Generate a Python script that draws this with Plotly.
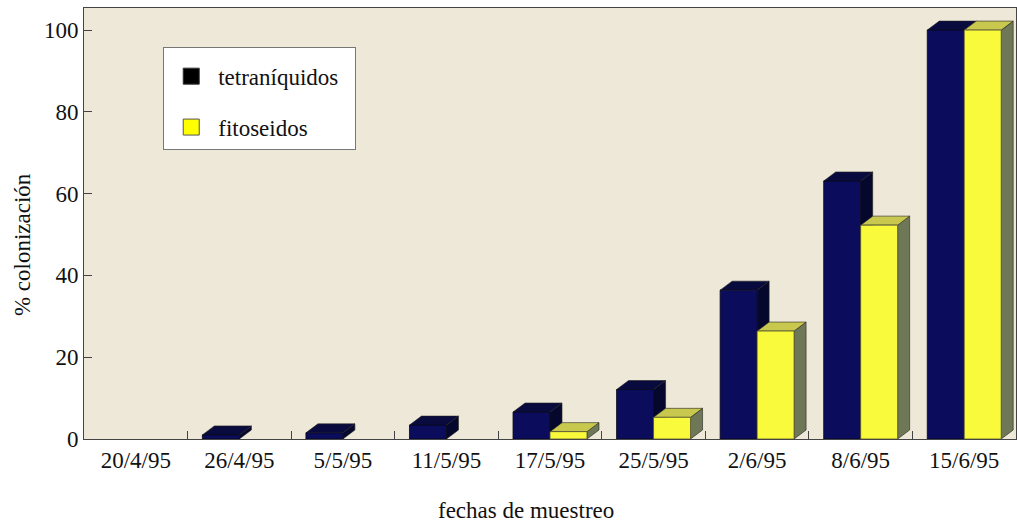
import plotly.graph_objects as go

fechas = ["20/4/95", "26/4/95", "5/5/95", "11/5/95", "17/5/95", "25/5/95", "2/6/95", "8/6/95", "15/6/95"]
tetraniquidos = [0, 1.0, 1.5, 3.4, 6.6, 12.1, 36.4, 63.1, 100]
fitoseidos = [0, 0, 0, 0, 1.8, 5.3, 26.4, 52.3, 100]

W = 0.357   # bar width (category units)
DX = 0.116  # 3D depth, x
DY = 2.2    # 3D depth, y (data units)

FONT = "Liberation Serif, Times New Roman, serif"
DARK_FRONT, DARK_TOP, DARK_SIDE = "#0b0d5c", "#090a3e", "#06072c"
YEL_FRONT, YEL_TOP, YEL_SIDE = "#fafa3c", "#c8c84e", "#6f7856"

xs = list(range(len(fechas)))
fig = go.Figure()

fig.add_trace(go.Bar(x=xs, y=tetraniquidos, width=W, offset=-W,
                     marker=dict(color=DARK_FRONT,
                                 line=dict(color="#050515", width=[0.8 if v > 0 else 0 for v in tetraniquidos])),
                     showlegend=False, name="tetraníquidos"))
fig.add_trace(go.Bar(x=xs, y=fitoseidos, width=W, offset=0,
                     marker=dict(color=YEL_FRONT,
                                 line=dict(color="#555533", width=[0.8 if v > 0 else 0 for v in fitoseidos])),
                     showlegend=False, name="fitoseidos"))

shapes = []
def faces(x0, v, fill_top, fill_side):
    if v <= 0:
        return
    x1 = x0 + W
    side = f"M {x1},0 L {x1},{v} L {x1+DX},{v+DY} L {x1+DX},{DY} Z"
    top = f"M {x0},{v} L {x1},{v} L {x1+DX},{v+DY} L {x0+DX},{v+DY} Z"
    shapes.append(dict(type="path", path=side, xref="x", yref="y", fillcolor=fill_side,
                       line=dict(color="#222", width=0.6), layer="below"))
    shapes.append(dict(type="path", path=top, xref="x", yref="y", fillcolor=fill_top,
                       line=dict(color="#222", width=0.6), layer="below"))

for i, v in enumerate(tetraniquidos):
    faces(i - W, v, DARK_TOP, DARK_SIDE)
for i, v in enumerate(fitoseidos):
    faces(i, v, YEL_TOP, YEL_SIDE)

fig.add_trace(go.Scatter(x=[None], y=[None], mode="markers", name="tetraníquidos&nbsp;&nbsp;", legendgroup="a",
                         marker=dict(symbol="square", size=20, color="#000000", line=dict(color="#333", width=1))))
fig.add_trace(go.Scatter(x=[None], y=[None], mode="markers", name="fitoseidos", legendgroup="b",
                         marker=dict(symbol="square", size=20, color="#ffff00", line=dict(color="#555", width=1))))

fig.update_layout(
    width=1017, height=522,
    margin=dict(l=84, r=1, t=8, b=83, autoexpand=False),
    paper_bgcolor="white", plot_bgcolor="#eee8d8",
    font=dict(family=FONT, size=23, color="#111"),
    shapes=shapes,
    showlegend=True,
    legend=dict(x=0.085, y=0.909, xanchor="left", yanchor="top", bgcolor="white",
                bordercolor="#777", borderwidth=1, tracegroupgap=18, traceorder="grouped",
                itemwidth=44,
                title=dict(text="&nbsp;", font=dict(size=5)),
                font=dict(family=FONT, size=23, color="#111")),
    annotations=[
        dict(text="% colonización", xref="paper", yref="paper", x=-0.0665, y=0.45, textangle=-90,
             xanchor="center", yanchor="middle", showarrow=False,
             font=dict(family=FONT, size=23, color="#111")),
        dict(text="fechas de muestreo", xref="paper", yref="paper", x=0.474, y=-0.165,
             xanchor="center", yanchor="middle", showarrow=False,
             font=dict(family=FONT, size=23, color="#111")),
    ],
)
fig.update_xaxes(range=[-0.5, 8.5], tickmode="array", tickvals=xs, ticktext=fechas, ticks="",
                 showline=True, linecolor="#444", linewidth=1, mirror=True, showgrid=False, zeroline=False,
                 ticklabelstandoff=0,
                 minor=dict(tickmode="array", tickvals=[i + 0.5 for i in range(8)], ticks="inside",
                            ticklen=8, tickcolor="#444", showgrid=False))
fig.update_yaxes(range=[0, 105.4], tickvals=[0, 20, 40, 60, 80, 100], ticks="inside", ticklen=8,
                 tickcolor="#444", showline=True, linecolor="#444", linewidth=1, mirror=True,
                 showgrid=False, zeroline=False)

fig.write_html("out.html", config={"displayModeBar": False},
               post_script="document.body.style.margin='0';document.body.style.overflow='hidden';")
